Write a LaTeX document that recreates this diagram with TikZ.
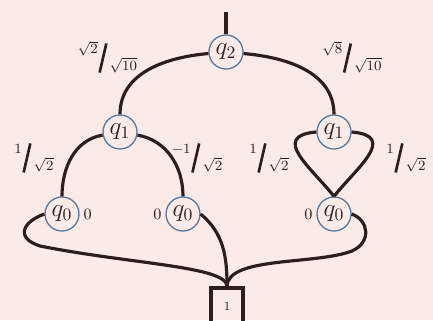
\documentclass[tikz,border=0pt]{standalone}
\usepackage{amsmath}
\usepackage{graphicx}
\usepackage{xcolor}
\usepackage{tikz}
\usetikzlibrary{positioning}
\definecolor{bgpink}{RGB}{250,234,232}
\definecolor{inkbrown}{RGB}{45,30,30}
\definecolor{ringblue}{RGB}{88,122,158}
\newcommand{\slfrac}[2]{\raisebox{6.5pt}{\footnotesize$#1$}\kern0.3pt%
  \raisebox{-4.3pt}{\rotatebox[origin=c]{-13}{\rule{1.5pt}{17pt}}}\kern1.2pt%
  \raisebox{-3pt}{\footnotesize$#2$}}

\begin{document}
\begin{tikzpicture}[
    font=\Large,
    qnode/.style={circle, draw=ringblue, line width=0.75pt, fill=bgpink,
                  minimum size=6.8mm, inner sep=0pt, text=inkbrown},
    outbox/.style={draw=inkbrown, line width=2pt, minimum width=6.4mm,
                   minimum height=7.2mm, inner sep=0pt, font=\scriptsize, text=inkbrown},
    wlabel/.style={text=inkbrown, inner sep=0pt, font=\normalsize},
    zlabel/.style={text=inkbrown, inner sep=0pt, font=\small},
    wire/.style={draw=inkbrown, line width=1.8pt}]
    \fill[bgpink] (0,0) rectangle (8.66,6.4);
    \useasboundingbox (0,0) rectangle (8.66,6.4);
    \node[qnode]  (q2)  at (4.52,5.36) {$q_2$};
    \node[qnode]  (q1a) at (2.40,3.76) {$q_1$};
    \node[qnode]  (q1b) at (6.68,3.76) {$q_1$};
    \node[qnode]  (q0a) at (1.24,2.12) {$q_0$};
    \node[qnode]  (q0b) at (3.66,2.12) {$q_0$};
    \node[qnode]  (q0c) at (6.68,2.12) {$q_0$};
    \node[outbox] (one) at (4.54,0.28) {1};
    \coordinate (stem) at (4.52,6.16);
    \node[wlabel] (w2) at (2.15,5.26) {\slfrac{\sqrt{2}}{\sqrt{10}}};
    \node[wlabel] (w8) at (7.04,5.26) {\slfrac{\sqrt{8}}{\sqrt{10}}};
    \node[wlabel] (wa) at (0.68,3.24) {\slfrac{1}{\sqrt{2}}};
    \node[wlabel] (wb) at (3.94,3.24) {\slfrac{-1}{\sqrt{2}}};
    \node[wlabel] (wc) at (5.38,3.24) {\slfrac{1}{\sqrt{2}}};
    \node[wlabel] (wd) at (8.12,3.24) {\slfrac{1}{\sqrt{2}}};
    \node[zlabel, right=0.07 of q0a] (za) {0};
    \node[zlabel, left=0.07 of q0b]  (zb) {0};
    \node[zlabel, left=0.07 of q0c]  (zc) {0};
    \draw[wire] (stem) -- (q2);
    \draw[wire] (q2) to[out=185,in=90] (q1a);
    \draw[wire] (q2) to[out=-5,in=90] (q1b);
    \draw[wire] (q1a) to[out=190,in=90] (q0a);
    \draw[wire] (q1a) to[out=-10,in=90] (q0b);
    \draw[wire] (q1b.west) .. controls +(-0.94,-0.08) and +(-0.44,0.56) .. (q0c.north);
    \draw[wire] (q1b.east) .. controls +(0.94,-0.08) and +(0.44,0.56) .. (q0c.north);
    \draw[wire] (q0a.west) .. controls +(-0.44,-0.16) and +(-0.50,0.16) .. (0.80,1.48)
                .. controls +(1.80,-0.36) and +(0,0.40) .. (one.north);
    \draw[wire] (q0b.east) to[out=-40,in=90] (one.north);
    \draw[wire] (q0c.east) .. controls +(0.34,-0.12) and +(0.40,0.18) .. (7.04,1.38)
                .. controls +(-0.74,-0.28) and +(0.02,0.60) .. (one.north);
\end{tikzpicture}
\end{document}
